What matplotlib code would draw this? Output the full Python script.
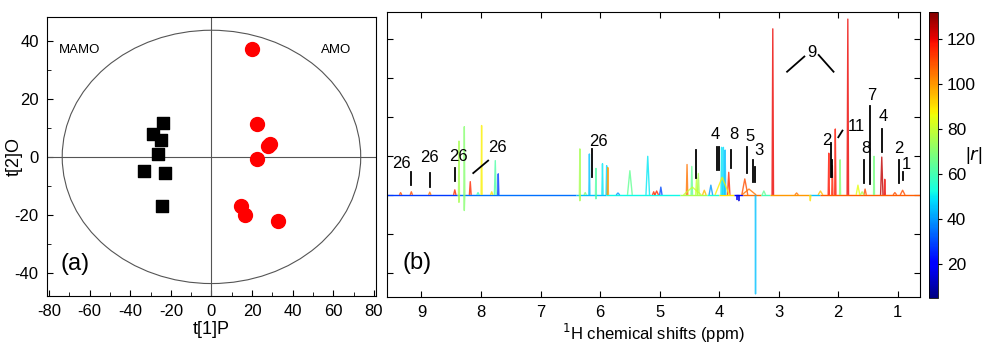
import numpy as np
import matplotlib
matplotlib.use("Agg")
import matplotlib.pyplot as plt
from matplotlib.patches import Ellipse
from matplotlib.collections import LineCollection
from matplotlib.colors import Normalize

plt.rcParams['font.family'] = ['Liberation Sans', 'DejaVu Sans']
plt.rcParams['axes.unicode_minus'] = False

# ---- panel (a): OPLS-DA scores ----
mamo_t1 = [-23.8, -28.8, -24.7, -26.2, -33.4, -22.7, -24.2]
mamo_t2 = [11.8, 7.8, 5.7, 1.1, -4.8, -5.4, -17.1]
amo_t1 = [20.2, 22.5, 28.0, 28.8, 22.5, 14.3, 16.4, 33.0]
amo_t2 = [37.1, 11.4, 3.7, 4.4, -0.8, -17.1, -20.1, -22.1]
ellipse_w = 147.0
ellipse_h = 87.4

# ---- panel (b): colour-coded loadings spectrum ----
# ppm, height, |r|, half width
peak_ppm = [9.35, 9.17, 8.86, 8.44, 8.37, 8.37, 8.28, 8.28, 8.18, 7.99, 7.76, 7.71,
            6.34, 6.34, 6.18, 6.07, 6.07, 5.96, 5.89, 5.87, 5.50, 5.20, 5.05, 4.98,
            4.54, 4.46, 4.38, 4.35, 4.14, 3.96, 3.93, 3.90, 3.84, 3.70, 3.67, 3.57,
            3.39, 3.10, 2.47, 2.16, 2.10, 2.05, 1.97, 1.84, 1.67, 1.55, 1.40, 1.27,
            1.22, 0.92, 4.45, 3.95, 3.50, 8.05, 7.82, 6.25, 5.70, 5.10, 4.25, 3.25,
            2.70, 2.30, 1.60, 1.05]
peak_h = [0.06, 0.08, 0.07, 0.13, 1.38, -0.19, 1.75, -0.40, 0.34, 1.78, 0.88, 0.54,
          1.18, -0.15, 1.05, 0.68, -0.10, 0.80, 0.75, 0.70, 0.62, 0.99, 0.10, 0.20,
          0.78, 0.73, 0.45, 0.55, 0.25, 1.22, 1.22, 1.15, 0.58, -0.12, -0.15, 0.41,
          -2.54, 4.26, -0.15, 1.07, 0.75, 1.69, 0.90, 4.51, 0.25, 0.15, 0.99, 0.97,
          0.40, 0.12, 0.20, 0.45, 0.15, 0.06, 0.08, 0.06, 0.05, 0.08, 0.12, 0.10,
          0.05, 0.10, 0.08, 0.06]
peak_r = [110, 110, 105, 115, 75, 75, 70, 70, 115, 88, 62, 28,
          75, 75, 45, 62, 62, 50, 48, 100, 65, 50, 115, 30,
          105, 65, 80, 75, 40, 50, 48, 45, 115, 20, 15, 110,
          45, 120, 90, 118, 116, 118, 70, 120, 85, 110, 68, 125,
          120, 110, 80, 88, 105, 60, 90, 70, 40, 115, 95, 65,
          105, 95, 75, 110]
peak_w = [0.02, 0.02, 0.02, 0.02, 0.008, 0.008, 0.008, 0.008, 0.015, 0.008, 0.015, 0.01,
          0.008, 0.008, 0.008, 0.008, 0.008, 0.01, 0.01, 0.01, 0.04, 0.03, 0.03, 0.02,
          0.012, 0.012, 0.015, 0.015, 0.03, 0.01, 0.01, 0.01, 0.02, 0.01, 0.01, 0.05,
          0.004, 0.012, 0.01, 0.01, 0.01, 0.01, 0.008, 0.012, 0.03, 0.02, 0.008, 0.02,
          0.01, 0.04, 0.15, 0.12, 0.12, 0.02, 0.02, 0.02, 0.03, 0.02, 0.03, 0.03,
          0.03, 0.04, 0.03, 0.03]

# baseline stretches: start ppm, end ppm, |r|
base_start = [9.58, 8.40, 6.40, 5.90, 4.65, 4.20, 4.00, 3.75, 3.60, 3.30, 3.15, 2.50, 2.30]
base_end = [8.40, 6.40, 5.90, 4.65, 4.20, 4.00, 3.75, 3.60, 3.30, 3.15, 2.50, 2.30, 0.63]
base_r = [28, 35, 45, 52, 75, 55, 90, 20, 105, 60, 100, 45, 108]

# assignment labels: text, text ppm, text y
lab_text = ['26', '26', '26', '26', '26', '4', '8', '5', '3', '9', '2', '11', '8', '7', '4', '2', '1']
lab_ppm = [9.34, 8.86, 8.38, 7.72, 6.03, 4.07, 3.76, 3.48, 3.33, 2.44, 2.20, 1.69, 1.54, 1.43, 1.25, 0.98, 0.85]
lab_y = [0.81, 0.97, 0.98, 1.21, 1.37, 1.54, 1.56, 1.51, 1.13, 3.65, 1.39, 1.75, 1.18, 2.56, 2.00, 1.18, 0.79]
# marker lines: ppm0, y0, ppm1, y1
mark_x0 = [9.17, 8.86, 8.44, 8.13, 6.14, 4.39, 4.045, 4.005, 3.80, 3.53, 3.44, 3.40, 2.86, 2.33,
           2.13, 2.10, 2.00, 1.57, 1.46, 1.26, 0.98, 0.91]
mark_y0 = [0.60, 0.56, 0.68, 0.56, 1.18, 1.15, 1.24, 1.24, 1.15, 1.24, 0.90, 0.72, 3.16, 3.59,
           1.32, 0.90, 1.48, 0.90, 2.29, 1.68, 0.90, 0.60]
mark_x1 = [9.17, 8.86, 8.44, 7.88, 6.14, 4.39, 4.045, 4.005, 3.80, 3.53, 3.44, 3.40, 2.57, 2.08,
           2.13, 2.10, 1.93, 1.57, 1.46, 1.26, 0.98, 0.91]
mark_y1 = [0.26, 0.21, 0.35, 0.88, 0.47, 0.44, 0.64, 0.64, 0.68, 0.56, 0.33, 0.33, 3.55, 3.16,
           0.46, 0.46, 1.65, 0.30, 0.28, 1.09, 0.30, 0.37]

fig = plt.figure(figsize=(9.87, 3.45), dpi=100)

# ---------------- (a) ----------------
ax = fig.add_axes([0.0476, 0.142, 0.3333, 0.809])
ax.add_patch(Ellipse((0, 0), ellipse_w, ellipse_h, fill=False, edgecolor='#555555', lw=0.8))
ax.axhline(0, color='#555555', lw=0.8)
ax.axvline(0, color='#555555', lw=0.8)
ax.scatter(mamo_t1, mamo_t2, marker='s', s=85, color='black', zorder=3)
ax.scatter(amo_t1, amo_t2, marker='o', s=100, color='#ff0000', zorder=3)
ax.set_xlim(-81, 81)
ax.set_ylim(-48, 48.3)
ax.set_xticks(range(-80, 81, 20))
ax.set_xticks(range(-80, 81, 10), minor=True)
ax.set_yticks(range(-40, 41, 20))
ax.set_yticks(range(-40, 41, 10), minor=True)
ax.tick_params(which='both', direction='in', labelsize=12)
ax.tick_params(which='major', length=4, pad=6)
ax.tick_params(which='minor', length=3)
ax.set_xlabel('t[1]P', fontsize=13, labelpad=1)
ax.set_ylabel('t[2]O', fontsize=13)
ax.yaxis.set_label_coords(-0.074, 0.5)
ax.text(-64.9, 36.8, 'MAMO', fontsize=9.5, ha='center', va='center')
ax.text(61.2, 36.8, 'AMO', fontsize=9.5, ha='center', va='center')
ax.text(-67.3, -37, '(a)', fontsize=17, ha='center', va='center')

# ---------------- (b) ----------------
cmap = plt.get_cmap('jet')
norm = Normalize(5, 132)
bx = fig.add_axes([0.392, 0.139, 0.540, 0.826])

base_segs = [[(s, 0), (e, 0)] for s, e in zip(base_start, base_end)]
bx.add_collection(LineCollection(base_segs, colors=cmap(norm(np.array(base_r))), lw=1.0))

peak_segs = [[(p + w, 0), (p, h), (p - w, 0)] for p, h, w in zip(peak_ppm, peak_h, peak_w)]
bx.add_collection(LineCollection(peak_segs, colors=cmap(norm(np.array(peak_r))), lw=1.0, alpha=0.8))

for t, px, py in zip(lab_text, lab_ppm, lab_y):
    bx.text(px, py, t, fontsize=12, ha='center', va='center')
for a0, b0, a1, b1 in zip(mark_x0, mark_y0, mark_x1, mark_y1):
    bx.plot([a0, a1], [b0, b1], color='black', lw=1.3)
bx.text(9.07, -1.75, '(b)', fontsize=17, ha='center', va='center')

bx.set_xlim(9.58, 0.63)
bx.set_ylim(-2.62, 4.69)
bx.set_xticks(range(1, 10))
bx.set_yticks(range(-2, 5))
bx.tick_params(direction='in', top=True, right=True, labelleft=False, labelsize=12, length=4, pad=6)
bx.set_xlabel('$^{1}$H chemical shifts (ppm)', fontsize=12, labelpad=1)

# colour bar
cax = fig.add_axes([0.9412, 0.136, 0.0091, 0.829])
sm = plt.cm.ScalarMappable(norm=norm, cmap=cmap)
cb = fig.colorbar(sm, cax=cax)
cb.set_ticks([20, 40, 60, 80, 100, 120])
cb.ax.tick_params(labelsize=12.5, length=3)
cb.outline.set_linewidth(0.6)
fig.text(0.978, 0.55, '|$\\it{r}$|', fontsize=13, ha='left', va='center')

fig.savefig('out.png', dpi=100)
